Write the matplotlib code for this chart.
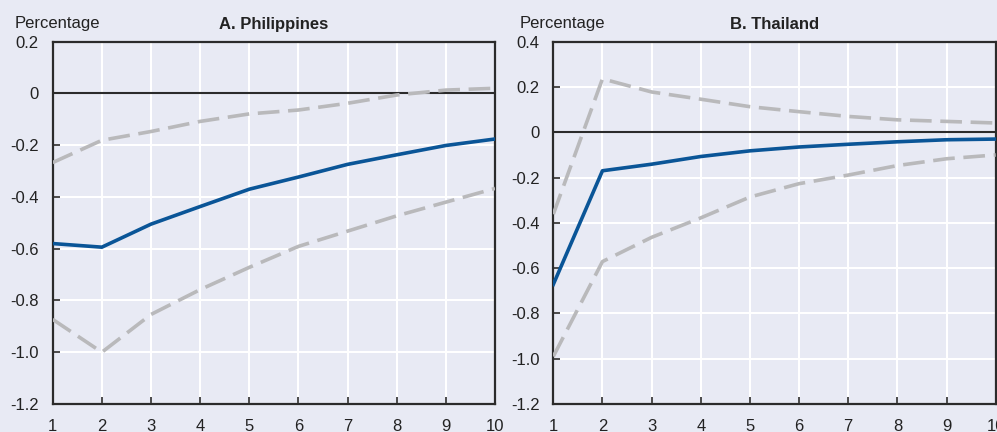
import matplotlib
matplotlib.use("Agg")
import matplotlib.pyplot as plt
from matplotlib import font_manager

# Horizon (quarters after the shock)
periods = [1, 2, 3, 4, 5, 6, 7, 8, 9, 10]
x_tick_labels = ["1", "2", "3", "4", "5", "6", "7", "8", "9", "10"]

# A. Philippines: impulse response and confidence bands
ph_response = [-0.580, -0.594, -0.505, -0.437, -0.370, -0.323, -0.274, -0.237, -0.201, -0.176]
ph_upper = [-0.267, -0.181, -0.147, -0.108, -0.079, -0.064, -0.038, -0.006, 0.013, 0.020]
ph_lower = [-0.873, -1.000, -0.854, -0.758, -0.672, -0.591, -0.532, -0.473, -0.420, -0.367]
ph_yticks = [0.2, 0.0, -0.2, -0.4, -0.6, -0.8, -1.0, -1.2]
ph_ytick_labels = ["0.2", "0", "-0.2", "-0.4", "-0.6", "-0.8", "-1.0", "-1.2"]

# B. Thailand: impulse response and confidence bands
th_response = [-0.672, -0.170, -0.141, -0.107, -0.082, -0.065, -0.053, -0.042, -0.033, -0.030]
th_upper = [-0.362, 0.236, 0.178, 0.146, 0.113, 0.091, 0.070, 0.055, 0.048, 0.041]
th_lower = [-0.990, -0.571, -0.464, -0.378, -0.286, -0.227, -0.189, -0.147, -0.117, -0.100]
th_yticks = [0.4, 0.2, 0.0, -0.2, -0.4, -0.6, -0.8, -1.0, -1.2]
th_ytick_labels = ["0.4", "0.2", "0", "-0.2", "-0.4", "-0.6", "-0.8", "-1.0", "-1.2"]

BG = "#e8eaf4"
BLUE = "#0a5597"
GREY = "#b9b9bb"
DARK = "#2b2b2b"

available = {f.name for f in font_manager.fontManager.ttflist}
family = ["Liberation Sans Narrow", "DejaVu Sans"] if "Liberation Sans Narrow" in available else ["Liberation Sans", "DejaVu Sans"]
plt.rcParams["font.family"] = family
plt.rcParams["font.size"] = 12

fig = plt.figure(figsize=(9.97, 4.32), dpi=100, facecolor=BG)

W, H = 997.0, 432.0
top_px, bot_px = 41.7, 404.0


def make_axes(left_px, right_px):
    return fig.add_axes([left_px / W, 1 - bot_px / H,
                         (right_px - left_px) / W, (bot_px - top_px) / H])


def draw_panel(ax, title, resp, upper, lower, yticks, ylabels, ymin, ymax, label_x):
    ax.set_facecolor(BG)
    ax.grid(True, color="white", linewidth=1.5, zorder=0)
    ax.set_axisbelow(True)
    ax.axhline(0, color=DARK, linewidth=1.5, zorder=2)
    ax.plot(periods, upper, color=GREY, linewidth=2.6, dashes=(6, 2.4), zorder=3)
    ax.plot(periods, lower, color=GREY, linewidth=2.6, dashes=(6, 2.4), zorder=3)
    ax.plot(periods, resp, color=BLUE, linewidth=2.6, zorder=4)
    ax.set_xlim(1, 10)
    ax.set_ylim(ymin, ymax)
    ax.set_xticks(periods)
    ax.set_xticklabels(x_tick_labels)
    ax.set_yticks(yticks)
    ax.set_yticklabels(ylabels)
    ax.tick_params(direction="in", length=5, width=1.2, color=DARK,
                   labelsize=12, labelcolor="#222222", pad=10)
    ax.tick_params(axis="x", pad=11)
    for s in ax.spines.values():
        s.set_color(DARK)
        s.set_linewidth(1.6)
    ax.set_title(title, fontsize=12, fontweight="bold", color="#222222", pad=9)
    fig.text(label_x / W, 1 - 28 / H, "Percentage", fontsize=12,
             color="#222222", ha="left", va="baseline")


ax_a = make_axes(52.7, 495.0)
draw_panel(ax_a, "A. Philippines", ph_response, ph_upper, ph_lower,
           ph_yticks, ph_ytick_labels, -1.2, 0.2, 15)

ax_b = make_axes(553.3, 995.7)
draw_panel(ax_b, "B. Thailand", th_response, th_upper, th_lower,
           th_yticks, th_ytick_labels, -1.2, 0.4, 520)

fig.savefig("out.png", dpi=100, facecolor=BG)
